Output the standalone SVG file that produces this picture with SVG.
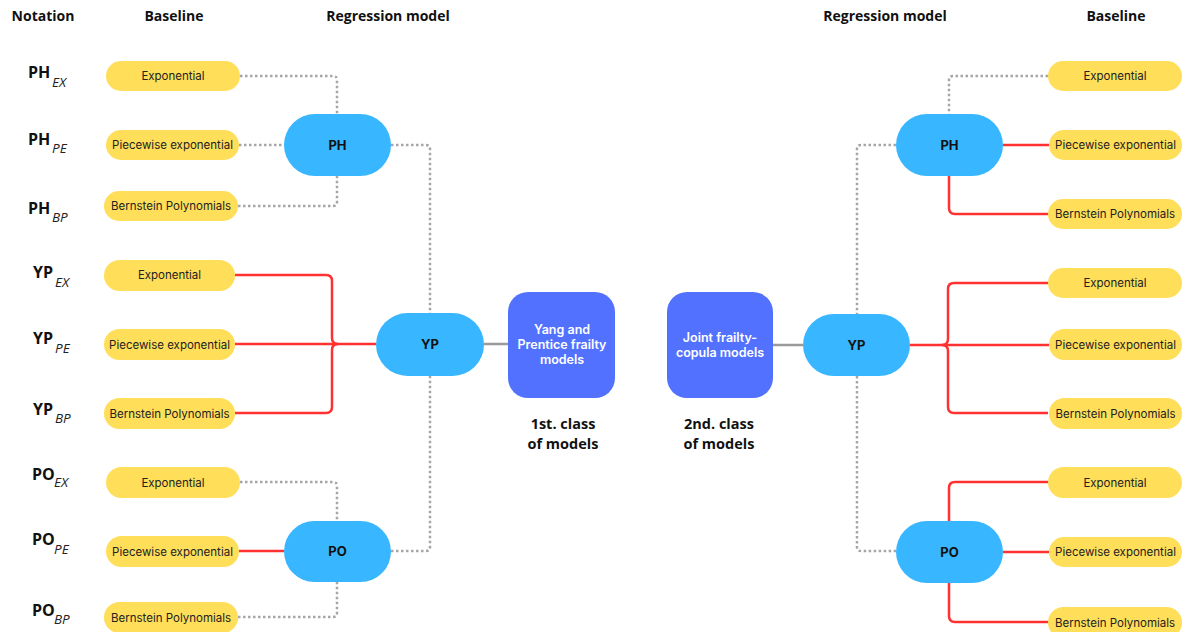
<svg xmlns="http://www.w3.org/2000/svg" width="1185" height="632" viewBox="0 0 1185 632">
  <style>
    .hdr { font-family: "Open Sans", "Liberation Sans", sans-serif; font-weight: 700; font-size: 14px; fill: #111; text-anchor: middle; }
    .pill rect { fill: #FFDE59; }
    .pill text { font-family: Inter, "Liberation Sans", sans-serif; font-size: 11.5px; fill: #222; text-anchor: middle; }
    .model rect { fill: #38B6FF; }
    .model text { font-family: Inter, "Liberation Sans", sans-serif; font-weight: 700; font-size: 13px; fill: #111; text-anchor: middle; }
    .klass rect { fill: #5271FF; }
    .klass text { font-family: Inter, "Liberation Sans", sans-serif; font-weight: 600; font-size: 12.5px; fill: #fff; text-anchor: middle; }
    .cap { font-family: "Open Sans", "Liberation Sans", sans-serif; font-weight: 700; font-size: 14.5px; fill: #111; text-anchor: middle; }
    .nota { font-family: "Open Sans", "Liberation Sans", sans-serif; font-weight: 700; font-size: 16px; fill: #111; }
    .sub { font-family: "Open Sans", "Liberation Sans", sans-serif; font-style: italic; font-weight: 400; font-size: 13.5px; fill: #222; }
    .dot { fill: none; stroke: #a6a6a6; stroke-width: 2.5; stroke-dasharray: 2.5 2.5; }
    .red { fill: none; stroke: #FF3131; stroke-width: 2.5; }
    .gry { fill: none; stroke: #9a9a9a; stroke-width: 2.5; }
  </style>

  <!-- column headers -->
  <g id="headers">
    <text class="hdr" x="43" y="21">Notation</text>
    <text class="hdr" x="174" y="21">Baseline</text>
    <text class="hdr" x="388" y="21">Regression model</text>
    <text class="hdr" x="885" y="21">Regression model</text>
    <text class="hdr" x="1116" y="21">Baseline</text>
  </g>

  <!-- notation labels -->
  <g id="notation">
    <text class="nota" x="28" y="78">PH<tspan class="sub" x="52" y="87">EX</tspan></text>
    <text class="nota" x="28" y="145">PH<tspan class="sub" x="52" y="153">PE</tspan></text>
    <text class="nota" x="28" y="214">PH<tspan class="sub" x="52" y="222">BP</tspan></text>
    <text class="nota" x="33" y="278">YP<tspan class="sub" x="55" y="287">EX</tspan></text>
    <text class="nota" x="33" y="344">YP<tspan class="sub" x="55" y="353">PE</tspan></text>
    <text class="nota" x="33" y="415">YP<tspan class="sub" x="55" y="423">BP</tspan></text>
    <text class="nota" x="32" y="480">PO<tspan class="sub" x="54" y="487">EX</tspan></text>
    <text class="nota" x="32" y="545">PO<tspan class="sub" x="54" y="554">PE</tspan></text>
    <text class="nota" x="32" y="616">PO<tspan class="sub" x="54" y="624">BP</tspan></text>
  </g>

  <!-- connectors -->
  <g id="connectors">
    <!-- left PH -->
    <path class="dot" d="M240,76 H333 Q337,76 337,80 V114"/>
    <path class="dot" d="M239,145 H284"/>
    <path class="dot" d="M238,206 H333 Q337,206 337,202 V176"/>
    <path class="dot" d="M391,145 H426 Q430,145 430,149 V313"/>
    <!-- left YP -->
    <path class="red" d="M235,275 H326 Q332,275 332,281 V338 Q332,344 338,344"/>
    <path class="red" d="M235,413 H326 Q332,413 332,407 V350 Q332,344 338,344"/>
    <path class="red" d="M235,344 H376"/>
    <!-- left PO -->
    <path class="dot" d="M240,482 H333 Q337,482 337,486 V521"/>
    <path class="red" d="M239,551 H284"/>
    <path class="dot" d="M238,617 H333 Q337,617 337,613 V582"/>
    <path class="dot" d="M391,551 H426 Q430,551 430,547 V376"/>
    <!-- centre links -->
    <path class="gry" d="M484,344 H508"/>
    <path class="gry" d="M773,345 H803"/>
    <!-- right PH -->
    <path class="dot" d="M1048,76 H953 Q949,76 949,80 V114"/>
    <path class="red" d="M1003,145 H1049"/>
    <path class="red" d="M949,176 V208 Q949,214 955,214 H1048"/>
    <path class="dot" d="M896,145 H861 Q857,145 857,149 V314"/>
    <!-- right YP -->
    <path class="red" d="M1048,283 H954 Q948,283 948,289 V339 Q948,345 942,345"/>
    <path class="red" d="M1048,413 H954 Q948,413 948,407 V351 Q948,345 942,345"/>
    <path class="red" d="M910,345 H1049"/>
    <!-- right PO -->
    <path class="dot" d="M857,376 V547 Q857,551 861,551 H896"/>
    <path class="red" d="M949,521 V488 Q949,482 955,482 H1048"/>
    <path class="red" d="M1003,552 H1049"/>
    <path class="red" d="M949,583 V616 Q949,622 955,622 H1048"/>
  </g>

  <!-- left baselines -->
  <g id="l-ph-ex" class="pill"><rect x="106" y="61" width="134" height="30" rx="15"/><text x="173" y="80">Exponential</text></g>
  <g id="l-ph-pe" class="pill"><rect x="106" y="130" width="133" height="30" rx="15"/><text x="172.5" y="149">Piecewise exponential</text></g>
  <g id="l-ph-bp" class="pill"><rect x="104" y="191" width="134" height="30" rx="15"/><text x="171" y="210">Bernstein Polynomials</text></g>
  <g id="l-yp-ex" class="pill"><rect x="104" y="260" width="131" height="31" rx="15.5"/><text x="169.5" y="279">Exponential</text></g>
  <g id="l-yp-pe" class="pill"><rect x="104" y="329" width="131" height="31" rx="15.5"/><text x="169.5" y="348.5">Piecewise exponential</text></g>
  <g id="l-yp-bp" class="pill"><rect x="104" y="398" width="131" height="31" rx="15.5"/><text x="169.5" y="417.5">Bernstein Polynomials</text></g>
  <g id="l-po-ex" class="pill"><rect x="106" y="467" width="134" height="31" rx="15.5"/><text x="173" y="486.5">Exponential</text></g>
  <g id="l-po-pe" class="pill"><rect x="106" y="536" width="133" height="31" rx="15.5"/><text x="172.5" y="555.5">Piecewise exponential</text></g>
  <g id="l-po-bp" class="pill"><rect x="104" y="602" width="134" height="31" rx="15.5"/><text x="171" y="621.5">Bernstein Polynomials</text></g>

  <!-- left regression models -->
  <g id="l-ph" class="model"><rect x="284" y="114" width="107" height="62" rx="31"/><text x="337.5" y="149.5">PH</text></g>
  <g id="l-yp" class="model"><rect x="376" y="313" width="108" height="63" rx="31.5"/><text x="430" y="349">YP</text></g>
  <g id="l-po" class="model"><rect x="284" y="521" width="107" height="61" rx="30.5"/><text x="337.5" y="556">PO</text></g>

  <!-- model classes -->
  <g id="class-1" class="klass">
    <rect x="508" y="292" width="107" height="106" rx="20"/>
    <text x="562" y="334">Yang and</text>
    <text x="562" y="349">Prentice frailty</text>
    <text x="562" y="364">models</text>
  </g>
  <g id="class-2" class="klass">
    <rect x="667" y="292" width="106" height="106" rx="20"/>
    <text x="720" y="342">Joint frailty-</text>
    <text x="720" y="357">copula models</text>
  </g>
  <g id="class-labels">
    <text class="cap" x="563" y="429">1st. class</text>
    <text class="cap" x="563" y="449">of models</text>
    <text class="cap" x="719" y="429">2nd. class</text>
    <text class="cap" x="719" y="449">of models</text>
  </g>

  <!-- right regression models -->
  <g id="r-ph" class="model"><rect x="896" y="114" width="107" height="62" rx="31"/><text x="949.5" y="149.5">PH</text></g>
  <g id="r-yp" class="model"><rect x="803" y="314" width="107" height="62" rx="31"/><text x="856.5" y="349.5">YP</text></g>
  <g id="r-po" class="model"><rect x="896" y="521" width="107" height="62" rx="31"/><text x="949.5" y="556.5">PO</text></g>

  <!-- right baselines -->
  <g id="r-ph-ex" class="pill"><rect x="1048" y="61" width="134" height="30" rx="15"/><text x="1115" y="80">Exponential</text></g>
  <g id="r-ph-pe" class="pill"><rect x="1049" y="130" width="133" height="30" rx="15"/><text x="1115.5" y="149">Piecewise exponential</text></g>
  <g id="r-ph-bp" class="pill"><rect x="1048" y="199" width="134" height="30" rx="15"/><text x="1115" y="218">Bernstein Polynomials</text></g>
  <g id="r-yp-ex" class="pill"><rect x="1048" y="268" width="134" height="30" rx="15"/><text x="1115" y="287">Exponential</text></g>
  <g id="r-yp-pe" class="pill"><rect x="1049" y="329" width="133" height="31" rx="15.5"/><text x="1115.5" y="348.5">Piecewise exponential</text></g>
  <g id="r-yp-bp" class="pill"><rect x="1049" y="398" width="133" height="31" rx="15.5"/><text x="1115.5" y="417.5">Bernstein Polynomials</text></g>
  <g id="r-po-ex" class="pill"><rect x="1048" y="467" width="134" height="31" rx="15.5"/><text x="1115" y="486.5">Exponential</text></g>
  <g id="r-po-pe" class="pill"><rect x="1049" y="537" width="133" height="30" rx="15"/><text x="1115.5" y="556">Piecewise exponential</text></g>
  <g id="r-po-bp" class="pill"><rect x="1048" y="607" width="134" height="31" rx="15.5"/><text x="1115" y="626.5">Bernstein Polynomials</text></g>
</svg>
